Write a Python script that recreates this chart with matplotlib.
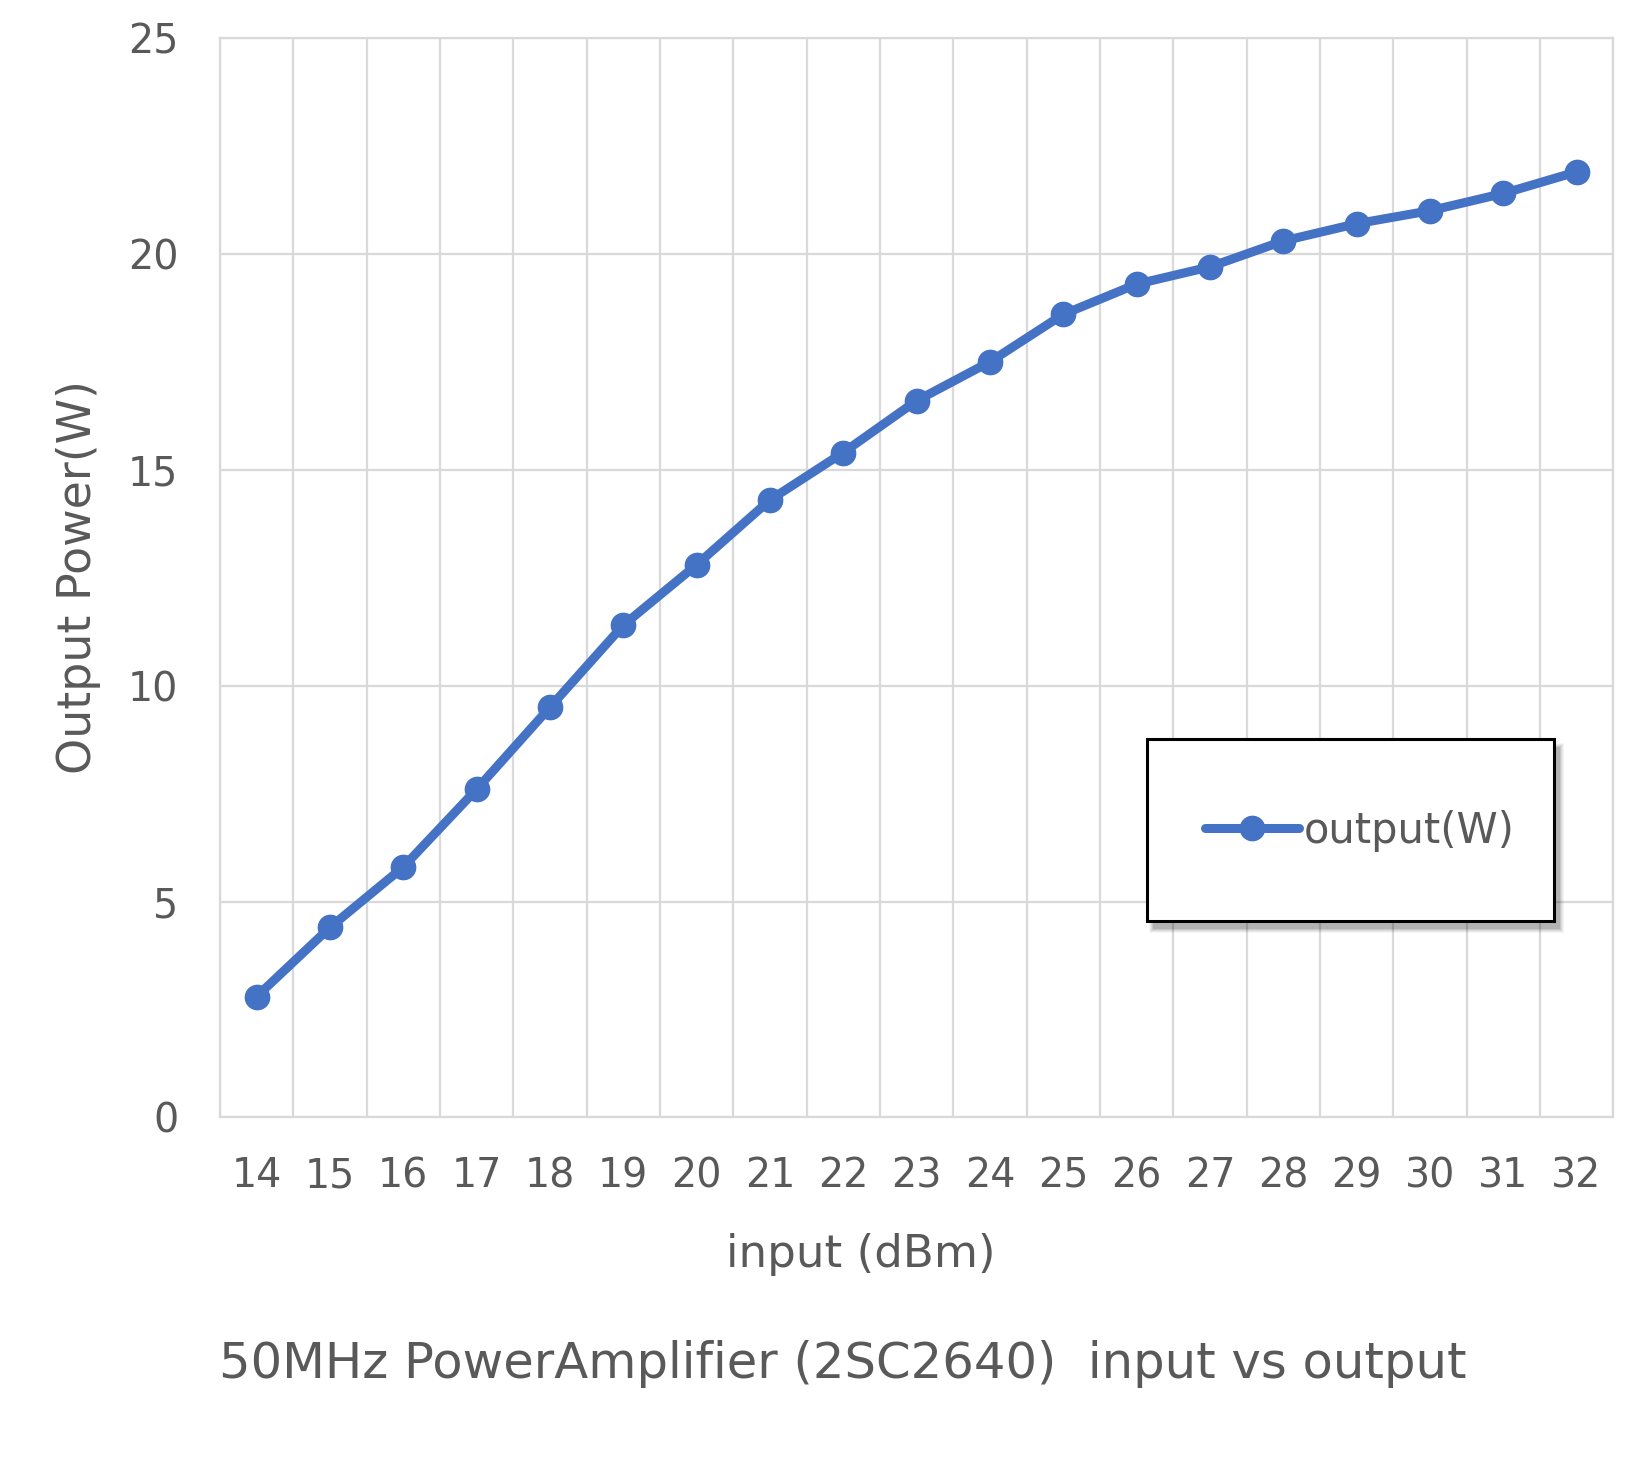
import matplotlib.pyplot as plt
import matplotlib.patches as mpatches
import numpy as np

# input power (dBm) and measured output (W)
input_dbm = [14, 15, 16, 17, 18, 19, 20, 21, 22, 23, 24, 25, 26, 27, 28, 29, 30, 31, 32]
output_w = [2.8, 4.4, 5.8, 7.6, 9.5, 11.4, 12.8, 14.3, 15.4, 16.6, 17.5, 18.6, 19.3,
            19.7, 20.3, 20.7, 21.0, 21.4, 21.9]
y_ticks = [0, 5, 10, 15, 20, 25]

txt = '#595959'
grid = '#d9d9d9'
blue = '#4472C4'
plt.rcParams['font.family'] = ['DejaVu Sans']

fig = plt.figure(figsize=(16.5, 14.63), dpi=100)
ax = fig.add_axes([0.1333, 0.2362, 0.8444, 0.7378])

x = np.arange(len(input_dbm))
ax.plot(x, output_w, color=blue, linewidth=6.5, marker='o', markersize=17.5,
        solid_capstyle='round', solid_joinstyle='round', zorder=3, label='output(W)')

ax.set_xlim(-0.5, len(input_dbm) - 0.5)
ax.set_ylim(0, 25)
ax.set_yticks(y_ticks)
ax.set_xticks(x)
ax.set_xticklabels([str(v) for v in input_dbm])
ax.set_xticks(np.arange(len(input_dbm) + 1) - 0.5, minor=True)
ax.grid(False)
ax.grid(True, which='minor', axis='x', color=grid, linewidth=1.6)
ax.grid(True, which='major', axis='y', color=grid, linewidth=1.6)
ax.tick_params(which='both', length=0)
ax.tick_params(axis='x', pad=28, labelsize=28.5, labelcolor=txt)
ax.tick_params(axis='y', pad=30, labelsize=28.5, labelcolor=txt)
for s in ax.spines.values():
    s.set_color(grid)
    s.set_linewidth(1.6)

fig.text(861 / 1650, 1 - 1255 / 1463, 'input (dBm)', ha='center', va='center',
         fontsize=32.5, color=txt)
fig.text(79 / 1650, 1 - 577 / 1463, 'Output Power(W)', ha='center', va='center',
         rotation=90, fontsize=33, color=txt)
fig.text(843 / 1650, 1 - 1364 / 1463, '50MHz PowerAmplifier (2SC2640)  input vs output',
         ha='center', va='center', fontsize=35.7, color=txt)

# legend box with soft shadow
bx0, bx1 = 1147 / 1650, 1554 / 1650
by0, by1 = 1 - 921 / 1463, 1 - 739 / 1463
for i, a in enumerate([0.04, 0.05, 0.06, 0.08, 0.1]):
    off = 2 * (4 - i)
    ax.add_patch(mpatches.Rectangle((bx0 + (6 - off / 2) / 1650, by0 - (8 + off / 2) / 1463),
                                    bx1 - bx0 + off / 1650, by1 - by0 + off / 1463,
                                    transform=fig.transFigure, facecolor='black',
                                    edgecolor='none', alpha=a, zorder=4, clip_on=False))
ax.add_patch(mpatches.Rectangle((bx0, by0), bx1 - bx0, by1 - by0,
                                transform=fig.transFigure, facecolor='white',
                                edgecolor='black', linewidth=2.2, zorder=5, clip_on=False))
leg = ax.legend(loc='center left', bbox_to_anchor=(1184 / 1650, 1 - 831 / 1463),
                bbox_transform=fig.transFigure, frameon=False, fontsize=30,
                handlelength=2.25, handletextpad=0.12, borderpad=0, labelcolor=txt)
leg.set_zorder(6)

fig.savefig('out.png', dpi=100)
